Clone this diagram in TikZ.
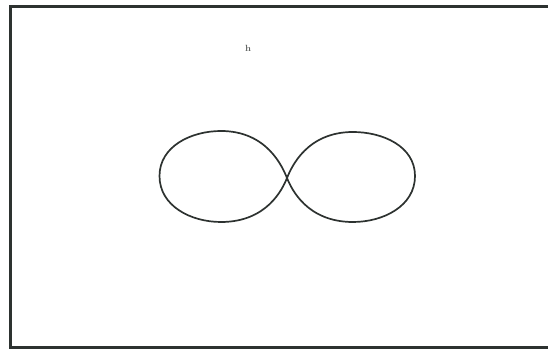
\documentclass[tikz,border=0pt]{standalone}
\usepackage{tikz}
\definecolor{inkgray}{RGB}{45,50,48}
\definecolor{markgray}{RGB}{95,98,96}
\usetikzlibrary{positioning}

\begin{document}
\begin{tikzpicture}[
    x=1pt, y=1pt,
    frame/.style={draw=inkgray, line width=2.4pt},
    lobe/.style={draw=inkgray, line width=1.7pt},
    inner/.style={out distance=12pt, in distance=46pt},
    outer/.style={out distance=46pt, in distance=12pt}
]
\useasboundingbox (0,0) rectangle (548,350);

% Frame (open on the right)
\draw[frame] (548,343.5) -- (10.5,343.5) -- (10.5,2.5) -- (548,2.5);

% Small mark
\node[text=markgray, font=\small\bfseries, inner sep=0pt] (mark) at (248,302) {h};

% Figure eight
\coordinate (mid) at (287,172);
\coordinate (ltop) at (221,219);
\coordinate (lleft) at (159.5,174);
\coordinate (lbot) at (221,128);
\coordinate (rtop) at (353,218);
\coordinate (rright) at (415,174);
\coordinate (rbot) at (353,128);

\draw[lobe] (mid) to[out=112,in=0,inner] (ltop) to[out=180,in=90] (lleft)
    to[out=-90,in=180] (lbot) to[out=0,in=-112,outer] (mid)
    to[out=68,in=180,inner] (rtop) to[out=0,in=90] (rright)
    to[out=-90,in=0] (rbot) to[out=180,in=-68,outer] (mid);

\end{tikzpicture}
\end{document}
